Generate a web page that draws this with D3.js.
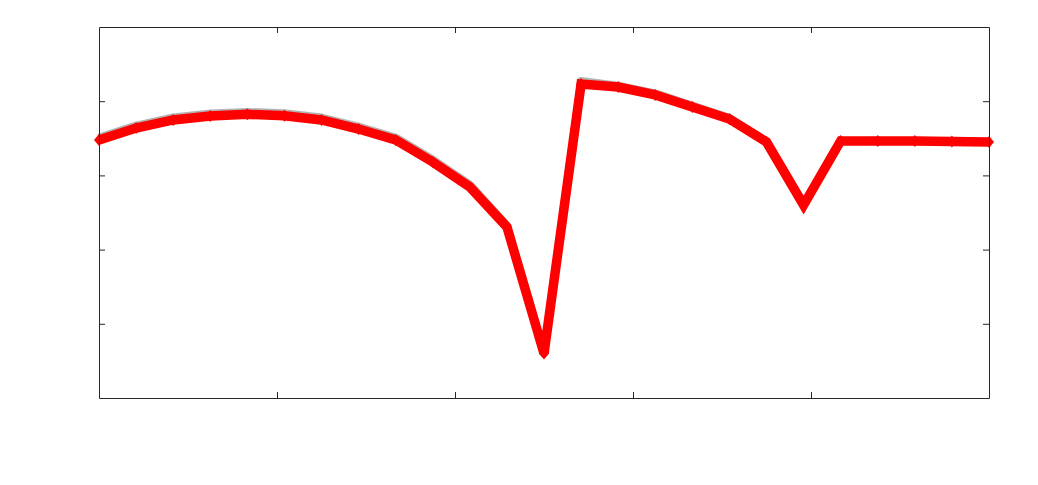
<!DOCTYPE html>
<html>
<head>
<meta charset="utf-8">
<script src="https://cdn.jsdelivr.net/npm/d3@7"></script>
<style>
body { margin:0; background:#fff; }
</style>
</head>
<body>
<div id="svgContainer"></div>
<script>
var svgWidth = 1038, svgHeight = 485;
var margin = {top:27, left:99, right:49, bottom:87};

// series (index 0..24)
var redValues = [3.477, 3.639, 3.747, 3.801, 3.823, 3.805, 3.747, 3.625, 3.477, 3.181,
                 2.844, 2.305, 0.600, 4.232, 4.191, 4.084, 3.922, 3.760, 3.450, 2.601,
                 3.464, 3.464, 3.464, 3.457, 3.450];
var grayValues = [3.510, 3.672, 3.780, 3.834, 3.856, 3.838, 3.780, 3.658, 3.510, 3.214,
                  2.877, 2.325, 0.600, 4.272, 4.210, 4.105, 3.942, 3.775, 3.460, 2.601,
                  3.464, 3.464, 3.464, 3.457, 3.450];
var xTicks = [4.8, 9.6, 14.4, 19.2];
var yTicks = [1, 2, 3, 4];

var svg = d3.select("#svgContainer").append("svg")
    .attr("width", svgWidth)
    .attr("height", svgHeight);

var x = d3.scaleLinear().domain([0, 24]).range([margin.left, svgWidth - margin.right]);
var y = d3.scaleLinear().domain([0, 5]).range([svgHeight - margin.bottom, margin.top]);

var line = d3.line()
    .x(function(d, i){ return x(i); })
    .y(function(d){ return y(d); });

// gray series underneath
svg.append("path")
    .datum(grayValues)
    .attr("fill", "none")
    .attr("stroke", "#b4b4b4")
    .attr("stroke-width", 8)
    .attr("stroke-linejoin", "round")
    .attr("d", line);

// red series
svg.append("path")
    .datum(redValues)
    .attr("fill", "none")
    .attr("stroke", "#ff0000")
    .attr("stroke-width", 9.5)
    .attr("stroke-linejoin", "miter")
    .attr("d", line);

svg.selectAll(".marker")
    .data(redValues)
    .enter()
    .append("path")
    .attr("class", "marker")
    .attr("d", "M0,-6L5,0L0,6L-5,0Z")
    .attr("fill", "#ff0000")
    .attr("transform", function(d, i){ return "translate(" + x(i) + "," + y(d) + ")"; });

// axes box with inward ticks, no labels
var axisColor = "#262626";
svg.append("g")
    .attr("transform", "translate(0," + (svgHeight - margin.bottom) + ")")
    .call(d3.axisBottom(x).tickValues(xTicks).tickSizeInner(-6).tickSizeOuter(0).tickFormat(""))
    .call(function(g){ g.selectAll("line,path").attr("stroke", axisColor); });
svg.append("g")
    .attr("transform", "translate(0," + margin.top + ")")
    .call(d3.axisTop(x).tickValues(xTicks).tickSizeInner(-6).tickSizeOuter(0).tickFormat(""))
    .call(function(g){ g.selectAll("line,path").attr("stroke", axisColor); });
svg.append("g")
    .attr("transform", "translate(" + margin.left + ",0)")
    .call(d3.axisLeft(y).tickValues(yTicks).tickSizeInner(-6).tickSizeOuter(0).tickFormat(""))
    .call(function(g){ g.selectAll("line,path").attr("stroke", axisColor); });
svg.append("g")
    .attr("transform", "translate(" + (svgWidth - margin.right) + ",0)")
    .call(d3.axisRight(y).tickValues(yTicks).tickSizeInner(-6).tickSizeOuter(0).tickFormat(""))
    .call(function(g){ g.selectAll("line,path").attr("stroke", axisColor); });
</script>
</body>
</html>
